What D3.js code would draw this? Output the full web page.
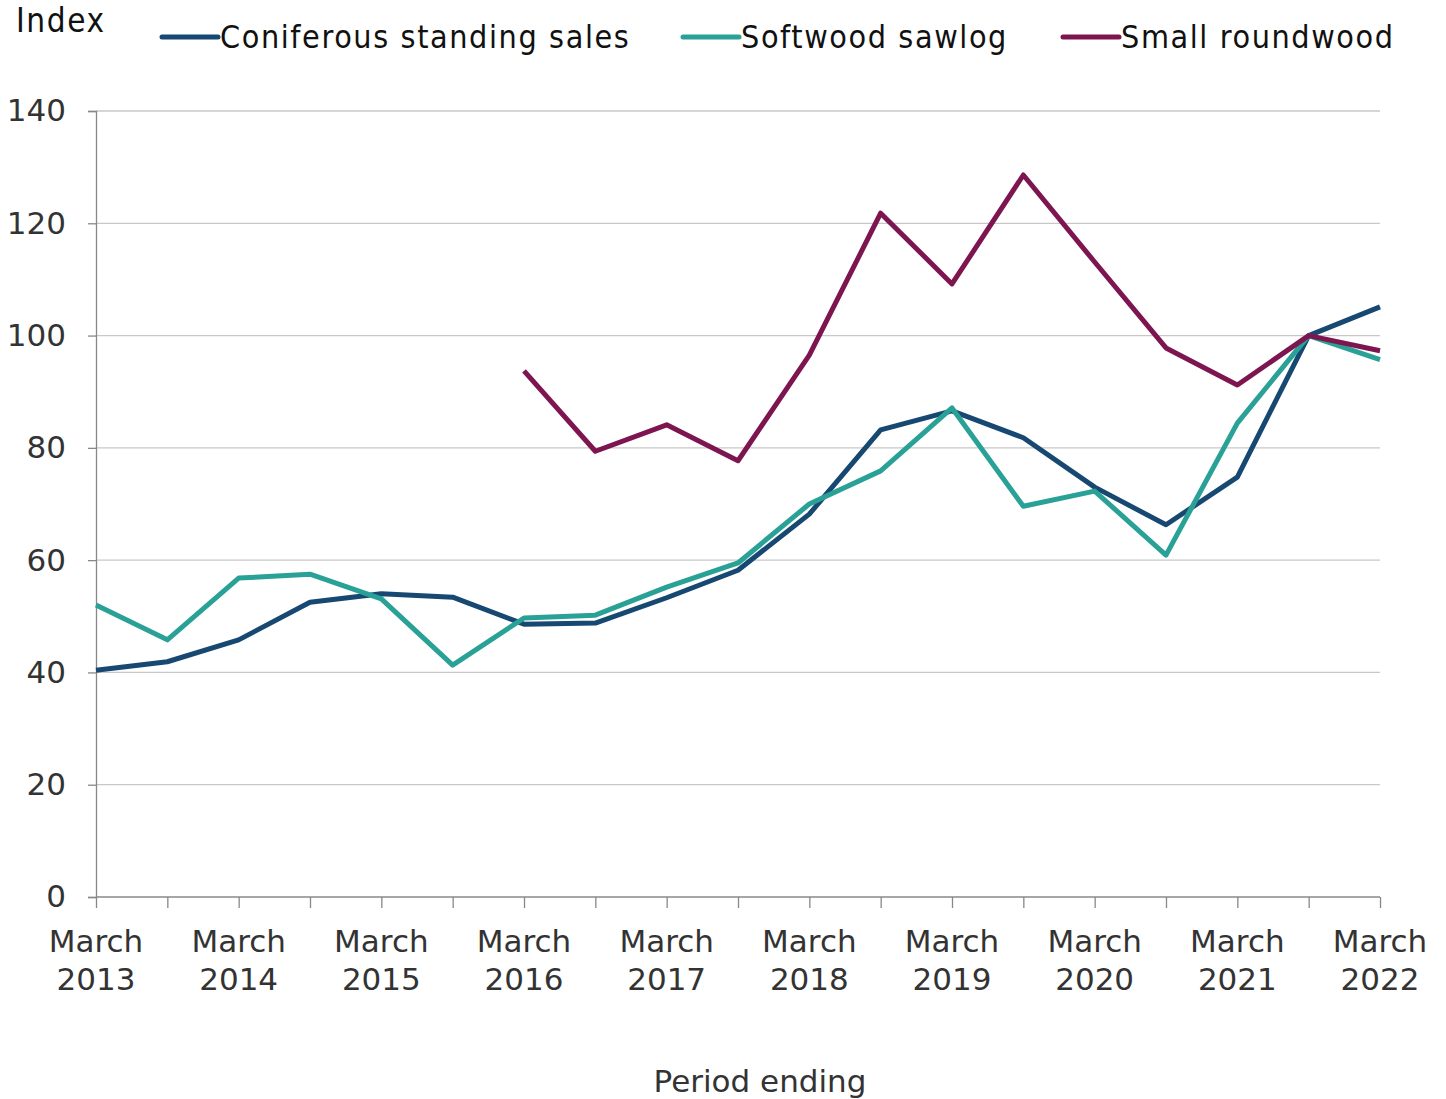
<!DOCTYPE html>
<html>
<head>
<meta charset="utf-8">
<script src="https://cdn.jsdelivr.net/npm/d3@7"></script>
<style>
  body { margin: 0; background: #fff; }
  text { font-family: "DejaVu Sans", Verdana, sans-serif; fill: #333; }
  .cond { font-family: "DejaVu Sans Condensed", "DejaVu Sans", sans-serif; font-stretch: condensed; fill: #111; letter-spacing: 1.6px; }
</style>
</head>
<body>
<div id="chart"></div>
<script>
// half-yearly periods, March 2013 .. March 2022
var periods = ["Mar 2013","Sep 2013","Mar 2014","Sep 2014","Mar 2015","Sep 2015","Mar 2016","Sep 2016",
  "Mar 2017","Sep 2017","Mar 2018","Sep 2018","Mar 2019","Sep 2019","Mar 2020","Sep 2020","Mar 2021","Sep 2021","Mar 2022"];
var tickLabels = ["March 2013","March 2014","March 2015","March 2016","March 2017","March 2018","March 2019","March 2020","March 2021","March 2022"];
var yTicks = [0, 20, 40, 60, 80, 100, 120, 140];

var coniferous = [40.4, 41.9, 45.8, 52.5, 54.0, 53.4, 48.6, 48.8, 53.3, 58.2, 68.2, 83.2, 86.6, 81.8, 73.0, 66.3, 74.8, 100, 105.1];
var sawlog = [52.0, 45.8, 56.8, 57.5, 53.1, 41.3, 49.7, 50.2, 55.2, 59.5, 70.0, 75.9, 87.1, 69.6, 72.3, 60.9, 84.4, 100, 95.7];
var roundwood = [null, null, null, null, null, null, 93.7, 79.4, 84.1, 77.7, 96.5, 121.8, 109.2, 128.6, 113.1, 97.8, 91.2, 100, 97.3];

var seriesNames = ["Coniferous standing sales", "Softwood sawlog", "Small roundwood"];
var seriesColors = ["#174872", "#2aa196", "#7d1650"];
var seriesData = [coniferous, sawlog, roundwood];

var W = 1446, H = 1099;
var margin = { top: 111, right: 66, bottom: 202, left: 96 },
  width = W - margin.left - margin.right,
  height = H - margin.top - margin.bottom;

var svg = d3.select("#chart").append("svg")
  .attr("width", W).attr("height", H);
var g = svg.append("g")
  .attr("transform", "translate(" + margin.left + "," + margin.top + ")");

var x = d3.scalePoint().domain(periods).range([0, width]);
var y = d3.scaleLinear().domain([0, 140]).range([height, 0]);

// gridlines
g.append("g").selectAll("line")
  .data(yTicks.filter(function (d) { return d > 0; }))
  .enter().append("line")
  .attr("x1", 0).attr("x2", width)
  .attr("y1", function (d) { return y(d); }).attr("y2", function (d) { return y(d); })
  .attr("stroke", "#c8c8c8").attr("stroke-width", 1.3);

// Y axis
var yAxis = g.append("g")
  .call(d3.axisLeft(y).tickValues(yTicks).tickSize(8).tickPadding(22));
yAxis.select(".domain").attr("stroke", "#888").attr("stroke-width", 1.3);
yAxis.selectAll(".tick line").attr("stroke", "#888").attr("stroke-width", 1.3);
yAxis.selectAll("text").attr("font-size", 31).attr("font-family", "DejaVu Sans").attr("fill", "#333");

// X axis
var xAxis = g.append("g")
  .attr("transform", "translate(0," + height + ")")
  .call(d3.axisBottom(x).tickSize(11).tickFormat(""));
xAxis.select(".domain").attr("stroke", "#888").attr("stroke-width", 1.3).attr("d", "M0,0H" + width);
xAxis.selectAll(".tick line").attr("stroke", "#888").attr("stroke-width", 1.3);

var labelled = periods.filter(function (p) { return p.indexOf("Mar") === 0; });
var xl = g.append("g").selectAll("text")
  .data(labelled)
  .enter().append("text")
  .attr("text-anchor", "middle")
  .attr("font-size", 31)
  .attr("x", function (d) { return x(d); })
  .attr("y", height + 55);
xl.each(function (d, i) {
  var parts = tickLabels[i].split(" ");
  d3.select(this).append("tspan").attr("x", x(d)).text(parts[0]);
  d3.select(this).append("tspan").attr("x", x(d)).attr("dy", 38).text(parts[1]);
});

// lines
var line = d3.line()
  .defined(function (d) { return d != null; })
  .x(function (d, i) { return x(periods[i]); })
  .y(function (d) { return y(d); });

seriesData.forEach(function (s, i) {
  g.append("path")
    .datum(s)
    .attr("fill", "none")
    .attr("stroke", seriesColors[i])
    .attr("stroke-width", 5)
    .attr("stroke-linejoin", "round")
    .attr("d", line);
});

// axis titles
svg.append("text").attr("class", "cond")
  .attr("x", 16).attr("y", 32).attr("font-size", 33).text("Index");
svg.append("text")
  .attr("x", 760).attr("y", 1092)
  .attr("text-anchor", "middle").attr("font-size", 31).attr("fill", "#111")
  .text("Period ending");

// legend
var legendX = [162, 683, 1063];
var leg = svg.append("g").selectAll("g")
  .data(seriesNames)
  .enter().append("g")
  .attr("transform", function (d, i) { return "translate(" + legendX[i] + ",37)"; });
leg.append("line")
  .attr("x1", 0).attr("x2", 56).attr("y1", 0).attr("y2", 0)
  .attr("stroke", function (d, i) { return seriesColors[i]; })
  .attr("stroke-width", 5).attr("stroke-linecap", "round");
leg.append("text").attr("class", "cond")
  .attr("x", 58).attr("y", 11).attr("font-size", 32)
  .text(function (d) { return d; });
</script>
</body>
</html>
